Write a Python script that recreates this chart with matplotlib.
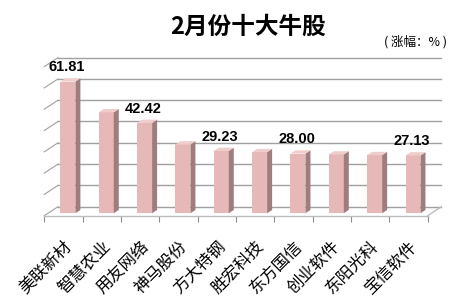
import matplotlib
matplotlib.use("Agg")
import matplotlib.pyplot as plt
import numpy as np

categories = ["美联新材", "智慧农业", "用友网络", "神马股份", "方大特钢",
              "胜宏科技", "东方国信", "创业软件", "东阳光科", "宝信软件"]
values = [61.81, 47.4, 42.42, 32.3, 29.23, 28.7, 28.00, 27.6, 27.3, 27.13]
labeled = [0, 2, 4, 6, 9]
title = "2月份十大牛股"
unit = "( 涨幅：% )"
grid_vals = [0, 10, 20, 30, 40, 50, 60, 70]

plt.rcParams['font.family'] = ['Noto Sans CJK SC', 'DejaVu Sans']

W, H = 464, 302
fig = plt.figure(figsize=(W / 100, H / 100), dpi=100)
fig.patch.set_facecolor("white")

px_l, px_r = 44.3, 427.7
py_b, py_t = 215.7, 57.6
ax = fig.add_axes([px_l / W, (H - py_b) / H, (px_r - px_l) / W, (py_b - py_t) / H])
n = len(categories)
ax.set_xlim(-0.5, n - 0.5)
ax.set_ylim(0, 74.22)
ax.set_facecolor("none")

DX = 13.7 / 38.34
DY = 9.0 / 2.13
d0, d1 = 0.27, 0.635

grid_c = "#a0a0a0"
edge_c = "#bdbdbd"
for g in grid_vals:
    ax.plot([-0.5 + DX, n - 0.5 + DX], [g + DY, g + DY], color=grid_c, lw=1.0,
            clip_on=False, zorder=1)
    ax.plot([-0.5, -0.5 + DX], [g, g + DY], color=grid_c, lw=0.8,
            clip_on=False, zorder=1)
ax.plot([n - 0.5, n - 0.5 + DX], [0, DY], color=edge_c, lw=1.0, clip_on=False, zorder=1)

x = np.arange(n)
bw = 0.39
front_c = "#e6b9b8"
side_c = "#9e7d7c"
top_c = "#efcdcc"
xl = x - bw / 2 + d0 * DX + 0.02
bars = ax.bar(xl, values, width=bw, bottom=d0 * DY, align="edge",
              color=front_c, edgecolor="none", zorder=3, clip_on=False)
dd = d1 - d0
for i, v in enumerate(values):
    b = d0 * DY
    xr = xl[i] + bw
    side = plt.Polygon([(xr, b), (xr + dd * DX, b + dd * DY),
                        (xr + dd * DX, b + v + dd * DY), (xr, b + v)],
                       closed=True, facecolor=side_c, edgecolor="none",
                       zorder=3, clip_on=False)
    ax.add_patch(side)
    top = plt.Polygon([(xl[i], b + v), (xr, b + v),
                       (xr + dd * DX, b + v + dd * DY), (xl[i] + dd * DX, b + v + dd * DY)],
                      closed=True, facecolor=top_c, edgecolor="none",
                      zorder=3, clip_on=False)
    ax.add_patch(top)

for i in labeled:
    ax.text(x[i] + 0.09, values[i] + 7.9, f"{values[i]:.2f}",
            ha="center", va="center", fontsize=10.5, fontweight="bold",
            family=["Liberation Sans", "DejaVu Sans"], color="black", zorder=5,
            clip_on=False)

for s in ["top", "right", "left"]:
    ax.spines[s].set_visible(False)
ax.spines["bottom"].set_color(edge_c)
ax.spines["bottom"].set_linewidth(1.0)
ax.set_yticks([])
ax.set_xticks(np.arange(-0.5, n, 1.0))
ax.set_xticklabels([])
ax.tick_params(axis="x", which="major", direction="out", length=4.3,
               color="#8c8c8c", width=0.8)
ax.set_xticks(x, minor=True)
ax.set_xticklabels(categories, minor=True, rotation=45, ha="right",
                   rotation_mode="anchor", fontsize=12, color="black",
                   fontweight="light")
ax.tick_params(axis="x", which="minor", length=0, pad=16)

fig.text(248 / W, 1 - 27 / H, title, ha="center", va="center",
         fontsize=17, fontweight="bold", color="black")
fig.text(447 / W, 1 - 42 / H, unit, ha="right", va="center",
         fontsize=9, color="black")

fig.savefig("out.png", dpi=100, facecolor="white")
